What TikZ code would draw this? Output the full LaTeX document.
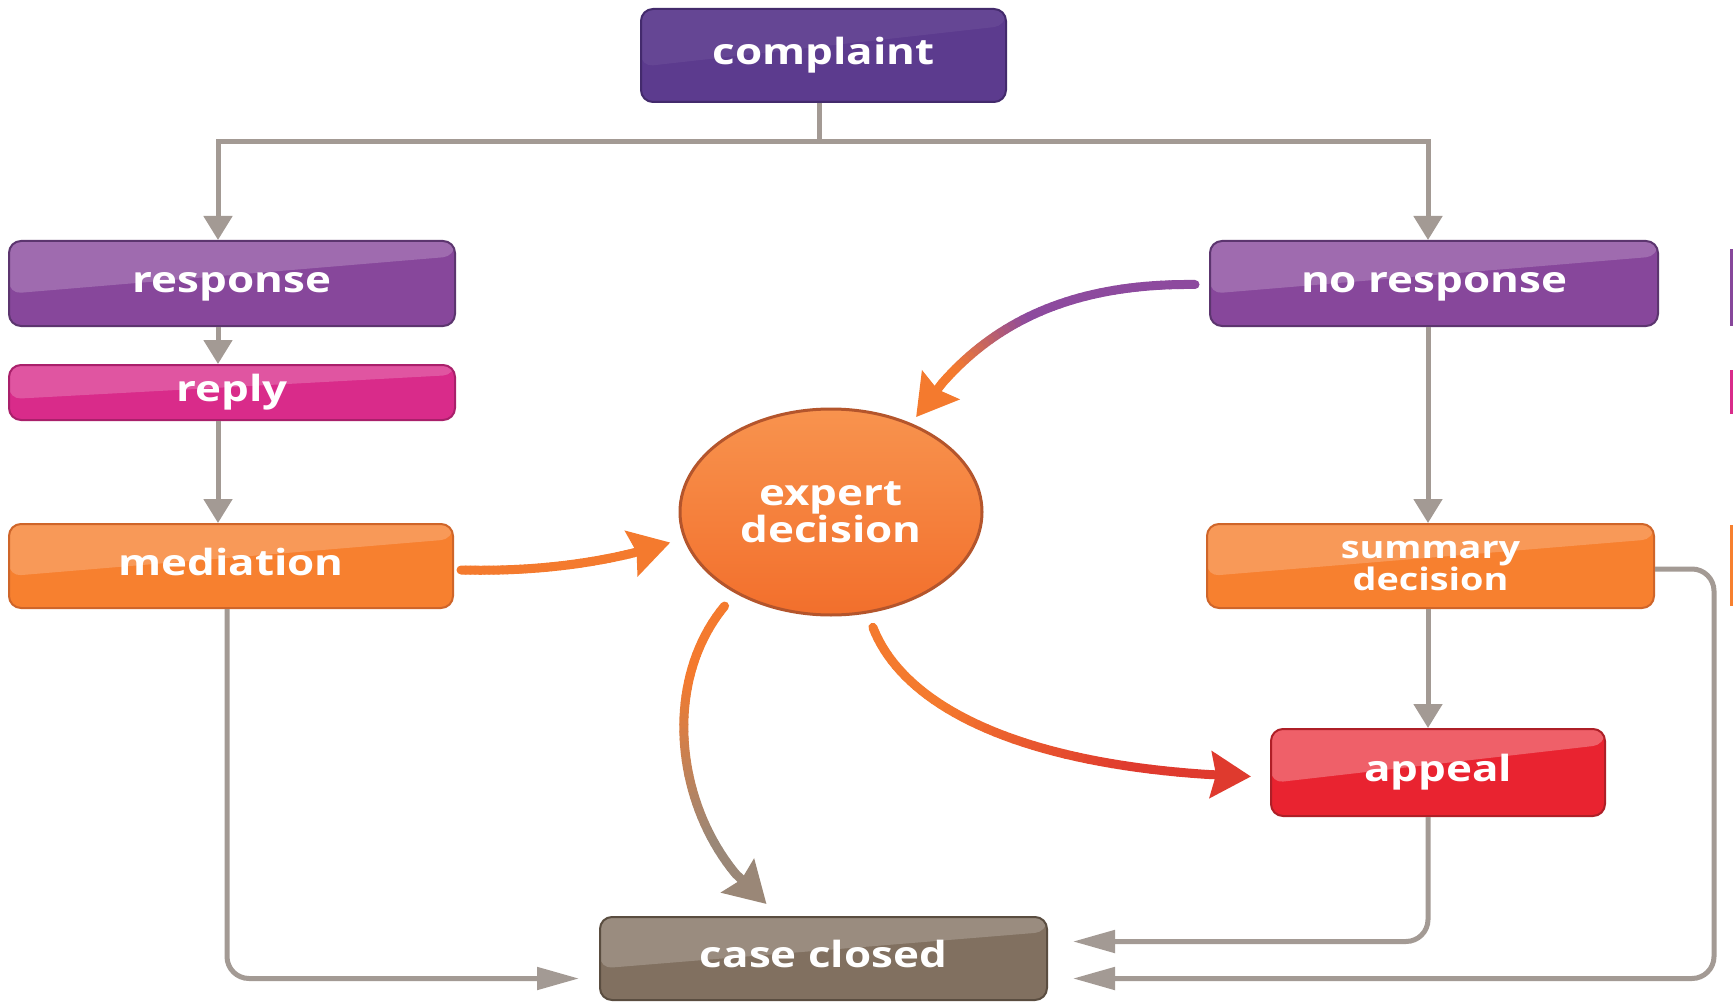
\documentclass[tikz,border=0pt]{standalone}
\usepackage{fontspec}
\newfontfamily\labfont[FakeStretch=1.22]{Open Sans}
\usetikzlibrary{arrows.meta,shapes.geometric,calc}
\definecolor{cgray}{HTML}{A39A94}
\definecolor{cpdark}{HTML}{5C3B8E}
\definecolor{cpdarkb}{HTML}{432A6C}
\definecolor{cpur}{HTML}{87479B}
\definecolor{cpurb}{HTML}{5C356F}
\definecolor{cmag}{HTML}{D92B8A}
\definecolor{cmagb}{HTML}{A9206B}
\definecolor{corg}{HTML}{F7802F}
\definecolor{corgb}{HTML}{CF6529}
\definecolor{cred}{HTML}{E92330}
\definecolor{credb}{HTML}{AE1F27}
\definecolor{cbrn}{HTML}{817060}
\definecolor{cbrnb}{HTML}{5A4D40}
\definecolor{apur}{HTML}{8D4A9E}
\definecolor{aorg}{HTML}{F47A2E}
\definecolor{abrn}{HTML}{9A8777}
\definecolor{ared}{HTML}{DF3A2E}
\definecolor{eborder}{HTML}{B4552C}
\definecolor{etop}{HTML}{F8934E}
\definecolor{ebot}{HTML}{F26F2C}
% #1 start, #2 c1, #3 c2, #4 end, #5 colour A, #6 colour B, #7 t0, #8 t1, #9 t at arrow base
\newcommand\gradcurve[9]{%
  \foreach \i in {0,...,39}{%
    \pgfmathsetmacro\ta{\i*#9/40}%
    \pgfmathsetmacro\tb{(\i+1)*#9/40}%
    \pgfmathsetmacro\m{min(100,max(0,(\ta-#7)/(#8-#7)*100))}%
    \path (#1) .. controls (#2) and (#3) .. coordinate[pos=\ta] (gA) (#4);
    \path (#1) .. controls (#2) and (#3) .. coordinate[pos=\tb] (gB) (#4);
    \draw[line width=9pt,line cap=round,color=#6!\m!#5] (gA) -- (gB);
  }%
  \path (#1) .. controls (#2) and (#3) .. coordinate[pos=#9] (gT) (#4);
  \draw[bigarrow,#6] (gT) -- (#4);}
\begin{document}
\begin{tikzpicture}[x=1pt,y=-1pt,
  boxbase/.style={rectangle,rounded corners=12pt,line width=2pt,inner sep=0pt,
    text=white,font=\labfont\bfseries\fontsize{36}{40}\selectfont},
  box/.style={boxbase,text height=26pt,text depth=8pt},
  gloss/.style={path picture={\fill[white,opacity=#1]
     (path picture bounding box.north west) -- (path picture bounding box.north east)
     -- ($(path picture bounding box.north east)!0.18!(path picture bounding box.south east)$)
     -- ($(path picture bounding box.north west)!0.62!(path picture bounding box.south west)$) -- cycle;}},
  gloss/.default=0.2,
  vconn/.style={draw=cgray,line width=5pt,-{Triangle[length=24pt,width=28pt]}},
  hconn/.style={draw=cgray,line width=5pt,rounded corners=22pt,-{Triangle[length=42pt,width=22pt]}},
  bigarrow/.style={line width=9pt,-{Stealth[length=40pt,width=46pt,inset=5pt]}}
]
\useasboundingbox (0,0) rectangle (1733,1003);
\fill[white] (0,0) rectangle (1733,1003);

% nodes
\node[box,gloss=0.06,fill=cpdark,draw=cpdarkb,minimum width=365pt,minimum height=93pt] (cp) at (823.5,55.5) {complaint};
\node[box,gloss,fill=cpur,draw=cpurb,minimum width=446pt,minimum height=85pt] (resp) at (232,283.5) {response};
\node[box,gloss,fill=cmag,draw=cmagb,minimum width=446pt,minimum height=55pt] (reply) at (232,392.5) {reply};
\node[box,gloss,fill=corg,draw=corgb,minimum width=444pt,minimum height=84pt] (med) at (231,566) {mediation};
\node[box,gloss,fill=cpur,draw=cpurb,minimum width=448pt,minimum height=85pt] (nr) at (1434,283.5) {no response};
\node[boxbase,gloss,fill=corg,draw=corgb,minimum width=447pt,minimum height=84pt,align=center,
  font=\labfont\bfseries\fontsize{31}{32}\selectfont] (sd) at (1430.5,566) {summary\\decision};
\node[box,gloss=0.28,fill=cred,draw=credb,minimum width=334pt,minimum height=87pt] (ap) at (1438,772.5) {appeal};
\node[box,gloss,fill=cbrn,draw=cbrnb,minimum width=447pt,minimum height=83pt] (cc) at (823.5,958.5) {case closed};
\node[ellipse,draw=eborder,line width=3pt,top color=etop,bottom color=ebot,
  minimum width=302pt,minimum height=206pt,inner sep=0pt,text=white,align=center,
  font=\labfont\bfseries\fontsize{36}{35}\selectfont] (ed) at (831,512) {expert\\decision};

% cropped neighbour slivers at right edge
\fill[cpur] (1730,249) rectangle (1733,326);
\fill[cmag] (1730,370) rectangle (1733,414);
\fill[corg] (1730,525) rectangle (1733,606);

% gray connectors
\draw[vconn] ([xshift=-4pt]cp.south) -- ++(0,39) -| ([xshift=-14pt]resp.north);
\draw[vconn] ([xshift=-4pt]cp.south) -- ++(0,39) -| ([xshift=-6pt]nr.north);
\draw[vconn] ([xshift=-14pt]resp.south) -- ([xshift=-14pt]reply.north);
\draw[vconn] ([xshift=-14pt]reply.south) -- ([xshift=-14pt]reply.south |- med.north);
\draw[vconn] ([xshift=-6pt]nr.south) -- ([xshift=-6pt]nr.south |- sd.north);
\draw[vconn] ([xshift=-2.5pt]sd.south) -- ([xshift=-2.5pt]sd.south |- ap.north);
\draw[hconn] ([xshift=-4pt]med.south) |- ($(cc.west)+(-20,20)$);
\draw[hconn] ([xshift=-10pt]ap.south) |- ($(cc.east)+(25,-17)$);
\draw[hconn] ($(sd.east)+(0,3)$) -- ++(59,0) |- ($(cc.east)+(25,20)$);

% curved arrows
\coordinate (a1s) at ($(nr.west)+(-14,1)$);
\coordinate (a1c1) at (1060,283);
\coordinate (a1c2) at (975,330);
\coordinate (a1e) at ($(ed.48)+(5,-6)$);
\gradcurve{a1s}{a1c1}{a1c2}{a1e}{apur}{aorg}{0.5}{0.8}{0.86}

\coordinate (a2s) at ($(med.east)+(7,4)$);
\coordinate (a2c1) at (540,572);
\coordinate (a2c2) at (610,562);
\coordinate (a2e) at ($(ed.191)+(-14,2)$);
\gradcurve{a2s}{a2c1}{a2c2}{a2e}{aorg}{aorg}{0}{1}{0.8}

\coordinate (a3s) at ($(ed.221)+(-12,12)$);
\coordinate (a3c1) at (655,690);
\coordinate (a3c2) at (678,835);
\coordinate (a3e) at ($(cc.north)+(-57,-12)$);
\gradcurve{a3s}{a3c1}{a3c2}{a3e}{aorg}{abrn}{0.25}{0.75}{0.87}

\coordinate (a4s) at ($(ed.290)+(5,14)$);
\coordinate (a4c1) at (905,710);
\coordinate (a4c2) at (1030,770);
\coordinate (a4e) at ($(ap.west)+(-19,4)$);
\gradcurve{a4s}{a4c1}{a4c2}{a4e}{aorg}{ared}{0.35}{0.8}{0.93}
\end{tikzpicture}
\end{document}
